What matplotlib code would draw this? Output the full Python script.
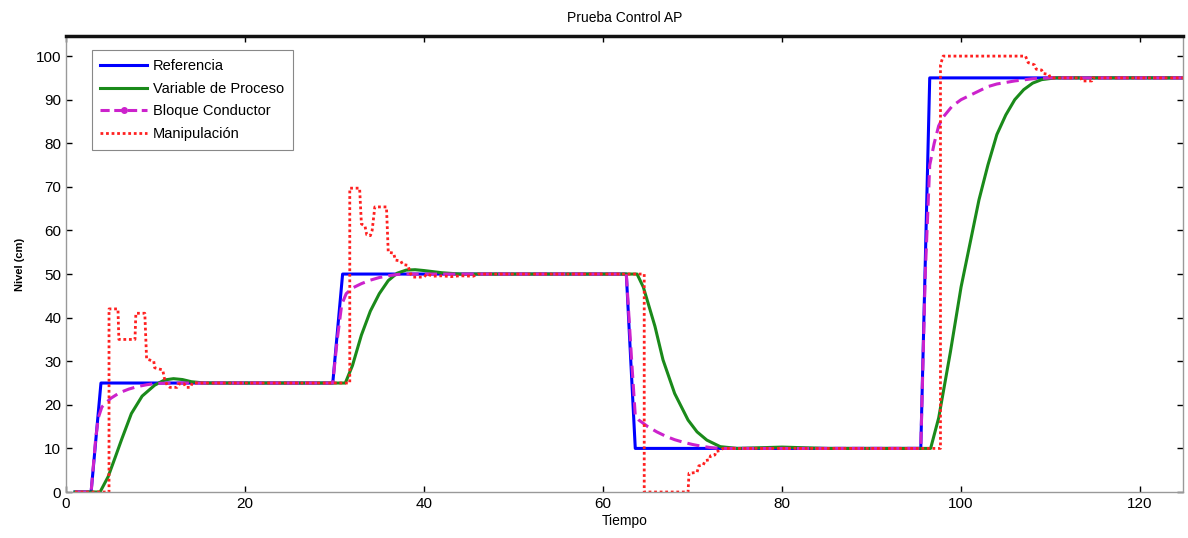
import numpy as np
import matplotlib.pyplot as plt
from matplotlib.lines import Line2D

plt.rcParams['font.family'] = ['Liberation Sans', 'DejaVu Sans']

# Referencia
t_ref = [1, 2.8, 3.9, 29.8, 30.9, 62.6, 63.6, 95.5, 96.5, 125]
ref = [0, 0, 25, 25, 50, 50, 10, 10, 95, 95]

# Variable de Proceso
t_pv = [1, 3.8, 4.7, 5.5, 6.2, 7.3, 8.5, 9.9, 11, 12, 13, 14, 15.5,
        31.2, 32, 33, 34, 35, 36, 37, 38, 39, 40, 42, 44,
        63.8, 64.5, 65.8, 66.7, 68, 69.5, 70.5, 71.6, 73.1, 75, 80, 85,
        96.6, 97.5, 98.8, 100, 101, 102, 103, 104, 105, 106, 107, 108, 109, 110.5, 125]
pv = [0, 0, 3.5, 8, 12, 18, 22, 24.5, 25.7, 26, 25.8, 25.3, 25,
      25, 29, 36, 41.5, 45.5, 48.5, 50.2, 50.9, 51, 50.8, 50.3, 50,
      50, 47, 38, 30.3, 22.6, 16.5, 13.8, 11.9, 10.4, 10, 10.3, 10,
      10, 17, 32, 47, 57, 67, 75, 82, 86.5, 90, 92.3, 93.8, 94.6, 95, 95]

# Bloque Conductor
t_bc = [1, 2.8, 3.3, 3.6, 4, 5, 6, 7, 8, 9, 10, 12,
        29.8, 30.3, 30.8, 31.3, 32, 33, 34, 35, 36, 37, 38,
        62.6, 63.2, 63.6, 64, 65, 66, 67, 68, 69, 70, 71, 72, 73,
        95.5, 96, 96.5, 97, 97.5, 98, 99, 100, 101, 102, 103, 104, 106, 108, 110, 125]
bc = [0, 0, 12, 17, 19.5, 21.5, 22.8, 23.6, 24.2, 24.6, 24.9, 25,
      25, 35, 43, 45.5, 46.8, 47.8, 48.6, 49.2, 49.6, 49.9, 50,
      50, 30, 17.5, 16.5, 15, 13.8, 12.8, 12, 11.4, 10.9, 10.5, 10.2, 10,
      10, 50, 75, 80, 84, 86, 88.5, 90, 91, 92, 93, 93.6, 94.3, 94.8, 95, 95]

# Manipulacion
t_man = [1, 4.8, 4.8, 5.8, 5.9, 7.7, 7.8, 8.8, 9.0, 9.8, 9.9, 10.8, 11.0, 11.3, 11.6,
         12.4, 12.6, 13.2, 13.4, 13.9, 14.1, 31.7,
         31.7, 32.8, 33.0, 33.4, 33.6, 34.0, 34.2, 34.5, 35.8, 36.0, 36.6, 36.8, 37.4,
         37.6, 38.2, 38.5, 38.8, 40, 40.3, 41, 42, 43, 44, 45.5, 46, 64.6,
         64.6, 69.5, 69.6, 70.5, 70.7, 71.2, 71.4, 71.9, 72.0, 72.5, 72.6, 73.1, 73.4, 97.7,
         97.7, 98.0, 107.2, 107.5, 108.2, 108.4, 109, 109.2, 109.8, 110, 113.4, 113.5,
         114.6, 114.7, 125]
man = [0, 0, 42, 42, 35, 35, 41, 41, 30.5, 30, 28.5, 28, 26, 24.5, 24,
       24, 24.8, 24.8, 24, 24, 25, 25,
       69.7, 69.7, 61.5, 61, 59, 58.8, 60, 65.4, 65.4, 55, 54.8, 53.2, 53,
       52.2, 52, 50, 49.3, 49.3, 50, 49.5, 49.6, 49.4, 49.6, 49.5, 50, 50,
       0, 0, 4.3, 4.5, 6, 6.2, 7.2, 7.4, 8.3, 8.5, 9.3, 9.5, 10, 10,
       98, 100, 100, 98.5, 98, 97, 96.8, 96, 95.8, 95, 95, 94.3,
       94.3, 95, 95]

fig = plt.figure(figsize=(11.88, 5.38), dpi=100)
ax = fig.add_axes([0.0556, 0.0855, 0.9402, 0.8475])

ax.plot(t_ref, ref, color='#0000ff', lw=2.2, label='Referencia')
ax.plot(t_pv, pv, color='#1a8a1a', lw=2.2, label='Variable de Proceso')
ax.plot(t_bc, bc, color='#cc22cc', lw=2.2, ls=(0, (4, 2)), label='Bloque Conductor')
ax.plot(t_man, man, color='#ff2020', lw=2.0, ls=(0, (1, 1)), label='Manipulación')

ax.set_xlim(0, 124.8)
ax.set_ylim(0, 104.6)
ax.set_xticks(range(0, 121, 20))
ax.set_yticks(range(0, 101, 10))
ax.tick_params(direction='in', length=4, width=1, labelsize=11, top=True, right=True, color='black')
for s in ['left', 'bottom', 'right']:
    ax.spines[s].set_color('#999999')
    ax.spines[s].set_linewidth(1)
ax.spines['top'].set_color('#111111')
ax.spines['top'].set_linewidth(2.5)

ax.set_title('Prueba Control AP', fontsize=10, pad=10)
ax.set_xlabel('Tiempo', fontsize=10, labelpad=2)
ax.set_ylabel('Nivel (cm)', fontsize=8, fontweight='bold', labelpad=8)

handles = [
    Line2D([], [], color='#0000ff', lw=2.2),
    Line2D([], [], color='#1a8a1a', lw=2.2),
    Line2D([], [], color='#cc22cc', lw=2.2, ls=(0, (3, 1.5)), marker='o', markersize=4),
    Line2D([], [], color='#ff2020', lw=2.0, ls=(0, (1, 1))),
]
labels = ['Referencia', 'Variable de Proceso', 'Bloque Conductor', 'Manipulación']
leg = ax.legend(handles, labels, loc='upper left', bbox_to_anchor=(0.023, 0.969),
                borderaxespad=0, fontsize=10.5, handlelength=3.2, handletextpad=0.4,
                labelspacing=0.6, fancybox=False, framealpha=1, borderpad=0.6)
leg.get_frame().set_edgecolor('#888888')
leg.get_frame().set_linewidth(0.8)

fig.savefig('out.png', dpi=100)
